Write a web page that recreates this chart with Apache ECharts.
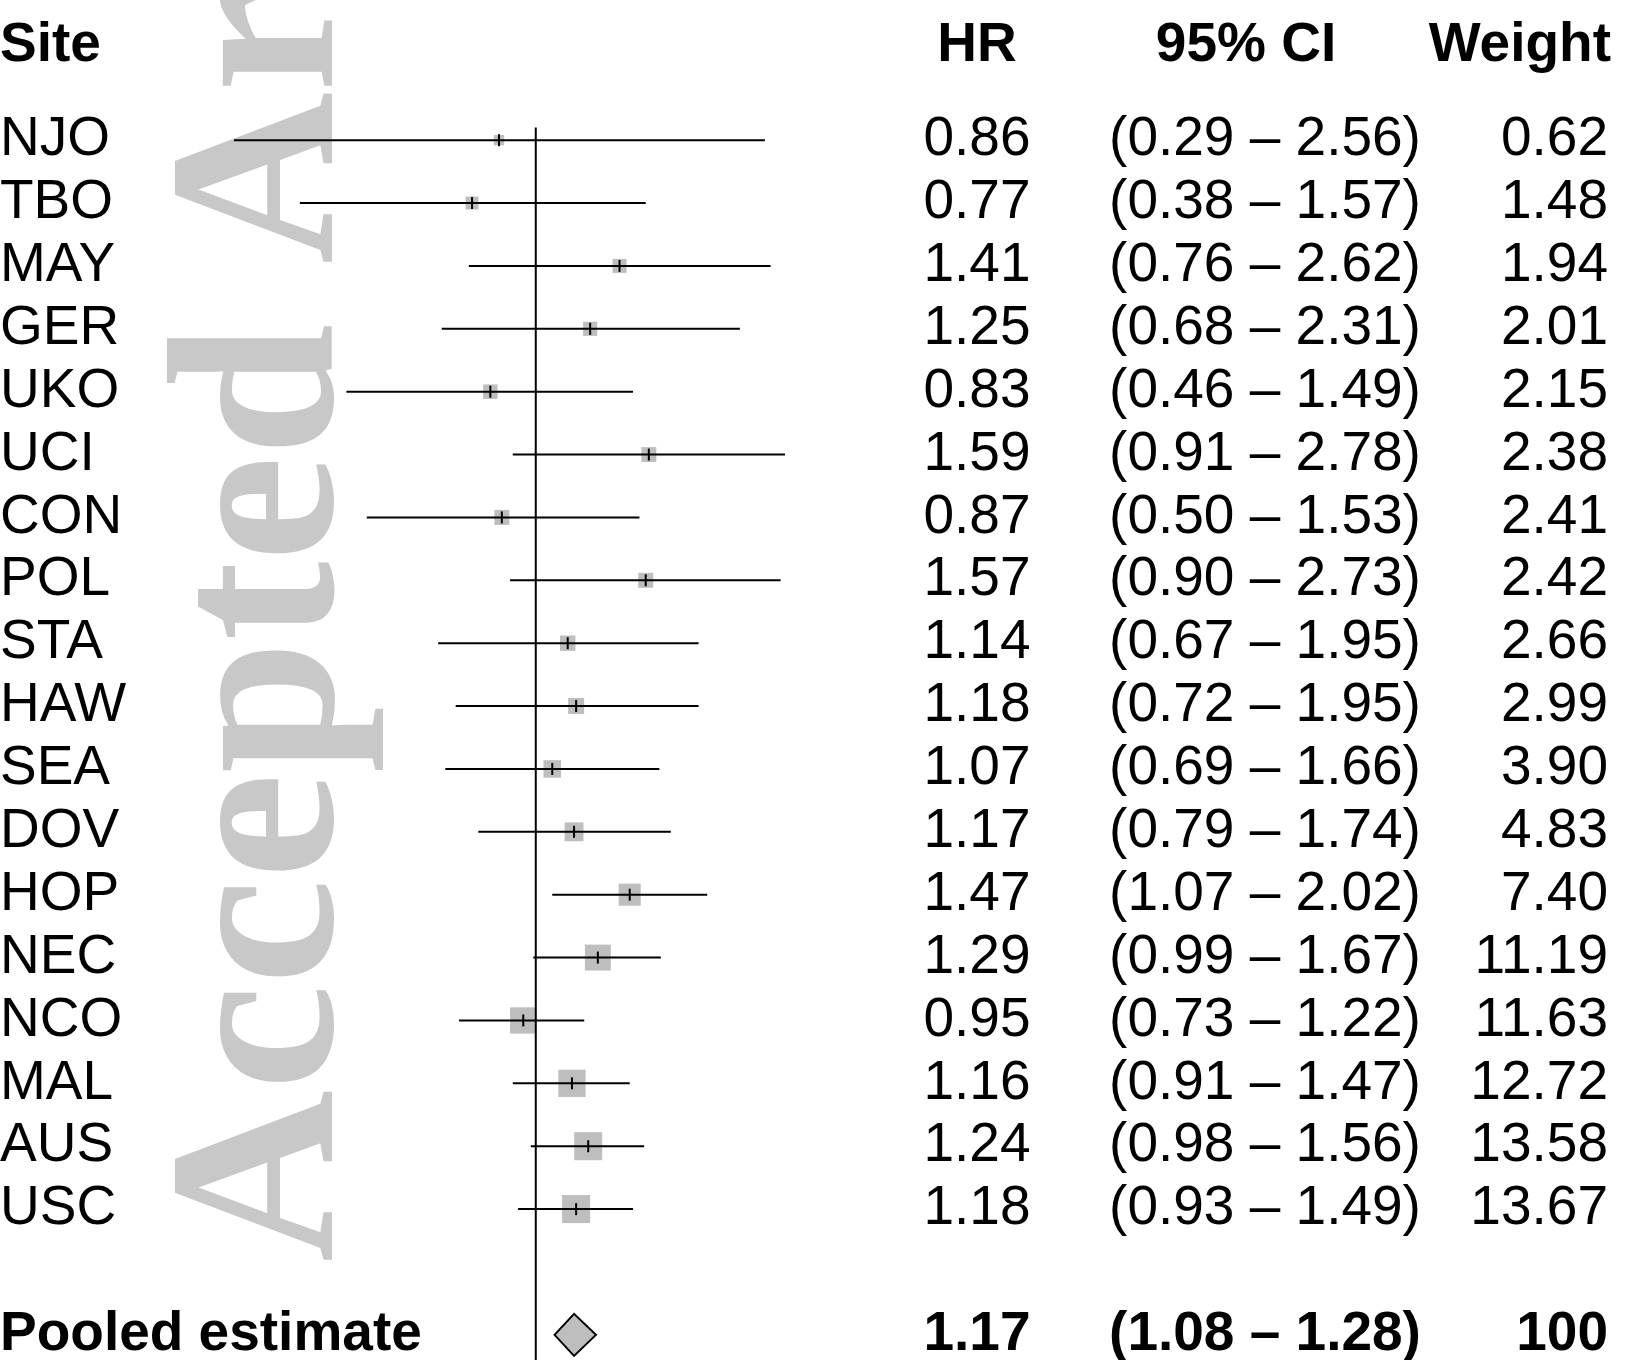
<!DOCTYPE html>
<html>
<head>
<meta charset="utf-8">
<script src="https://cdn.jsdelivr.net/npm/echarts@6/dist/echarts.min.js"></script>
<style>
  html, body { margin: 0; padding: 0; background: #ffffff; }
  #chart { width: 1628px; height: 1360px; }
</style>
</head>
<body>
<div id="chart"></div>
<script>
// ---------------- data ----------------
const sites   = ['NJO','TBO','MAY','GER','UKO','UCI','CON','POL','STA','HAW','SEA','DOV','HOP','NEC','NCO','MAL','AUS','USC'];
const hr      = [0.86, 0.77, 1.41, 1.25, 0.83, 1.59, 0.87, 1.57, 1.14, 1.18, 1.07, 1.17, 1.47, 1.29, 0.95, 1.16, 1.24, 1.18];
const ciLow   = [0.29, 0.38, 0.76, 0.68, 0.46, 0.91, 0.50, 0.90, 0.67, 0.72, 0.69, 0.79, 1.07, 0.99, 0.73, 0.91, 0.98, 0.93];
const ciHigh  = [2.56, 1.57, 2.62, 2.31, 1.49, 2.78, 1.53, 2.73, 1.95, 1.95, 1.66, 1.74, 2.02, 1.67, 1.22, 1.47, 1.56, 1.49];
const weights = [0.62, 1.48, 1.94, 2.01, 2.15, 2.38, 2.41, 2.42, 2.66, 2.99, 3.90, 4.83, 7.40, 11.19, 11.63, 12.72, 13.58, 13.67];
const pooledLabel  = 'Pooled estimate';
const pooledHR     = 1.17;
const pooledLow    = 1.08;
const pooledHigh   = 1.28;
const pooledWeight = '100';
const headers = ['Site', 'HR', '95% CI', 'Weight'];
const refHR = 1;
const watermark = 'Accepted Article';

// ---------------- layout ----------------
const ROW_PX = 62.9;
const Y_MIN = -2, Y_MAX = 19.4;
const GRID_TOP = 140.2 + Y_MIN * ROW_PX;
const GRID_H = (Y_MAX - Y_MIN) * ROW_PX;
const headerRow = -1.5;
const pooledRow = sites.length + 1;
const colX = { site: 0, hr: 977, ci: 1265, wt: 1608 };
const headX = [0, 977, 1246, 1611];
const headAlign = ['left', 'center', 'center', 'right'];
const FONT = '"Liberation Sans", Arial, Helvetica, sans-serif';

const fmt = v => v.toFixed(2);
const ciText = (l, h) => '(' + fmt(l) + ' \u2013 ' + fmt(h) + ')';

// text items
const textItems = [];
headers.forEach((h, k) => textItems.push({x: headX[k], row: headerRow, text: h, align: headAlign[k], bold: true}));
sites.forEach((s, i) => {
  textItems.push({x: colX.site, row: i, text: s, align: 'left', bold: false});
  textItems.push({x: colX.hr, row: i, text: fmt(hr[i]), align: 'center', bold: false});
  textItems.push({x: colX.ci, row: i, text: ciText(ciLow[i], ciHigh[i]), align: 'center', bold: false});
  textItems.push({x: colX.wt, row: i, text: fmt(weights[i]), align: 'right', bold: false});
});
textItems.push({x: colX.site, row: pooledRow, text: pooledLabel, align: 'left', bold: true});
textItems.push({x: colX.hr, row: pooledRow, text: fmt(pooledHR), align: 'center', bold: true});
textItems.push({x: colX.ci, row: pooledRow, text: ciText(pooledLow, pooledHigh), align: 'center', bold: true});
textItems.push({x: colX.wt, row: pooledRow, text: pooledWeight, align: 'right', bold: true});

const chart = echarts.init(document.getElementById('chart'), null, {renderer: 'canvas'});

const option = {
  backgroundColor: '#ffffff',
  animation: false,
  graphic: [{
    type: 'text',
    z: 0,
    x: 271,
    y: 1262,
    rotation: Math.PI / 2,
    style: {
      text: watermark,
      font: 'bold 238px "Liberation Serif", "Times New Roman", serif',
      fill: '#c8c8c8',
      align: 'left',
      verticalAlign: 'middle'
    }
  }],
  grid: [
    {left: 197.8, width: 605.8, top: GRID_TOP, height: GRID_H},
    {left: 0, width: 1628, top: GRID_TOP, height: GRID_H}
  ],
  xAxis: [
    {type: 'log', logBase: 10, min: 0.25, max: 3, show: false, gridIndex: 0},
    {type: 'value', min: 0, max: 1628, show: false, gridIndex: 1}
  ],
  yAxis: [
    {type: 'value', inverse: true, min: Y_MIN, max: Y_MAX, show: false, gridIndex: 0},
    {type: 'value', inverse: true, min: Y_MIN, max: Y_MAX, show: false, gridIndex: 1}
  ],
  series: [
    {
      type: 'custom',
      xAxisIndex: 0, yAxisIndex: 0,
      z: 3,
      clip: false,
      data: sites.map((s, i) => [i, hr[i], ciLow[i], ciHigh[i], weights[i]]),
      encode: {x: [1, 2, 3], y: 0},
      renderItem: (params, api) => {
        const row = api.value(0);
        const pE = api.coord([api.value(1), row]);
        const pL = api.coord([api.value(2), row]);
        const pH = api.coord([api.value(3), row]);
        const size = 5.5 + 6.1 * Math.sqrt(api.value(4));
        return {
          type: 'group',
          children: [
            {type: 'rect', shape: {x: pE[0] - size / 2, y: pE[1] - size / 2, width: size, height: size}, style: {fill: '#bebebe'}},
            {type: 'line', shape: {x1: pL[0], y1: pL[1], x2: pH[0], y2: pH[1]}, style: {stroke: '#000', lineWidth: 2}},
            {type: 'line', shape: {x1: pE[0], y1: pE[1] - 6, x2: pE[0], y2: pE[1] + 6}, style: {stroke: '#000', lineWidth: 2}}
          ]
        };
      }
    },
    {
      type: 'custom',
      xAxisIndex: 0, yAxisIndex: 0,
      z: 3,
      clip: false,
      data: [[pooledRow, pooledHR, pooledLow, pooledHigh]],
      encode: {x: [1, 2, 3], y: 0},
      renderItem: (params, api) => {
        const row = api.value(0);
        const pE = api.coord([api.value(1), row]);
        const pL = api.coord([api.value(2), row]);
        const pH = api.coord([api.value(3), row]);
        const h = 21;
        return {
          type: 'polygon',
          shape: {points: [[pL[0], pE[1]], [pE[0], pE[1] - h], [pH[0], pE[1]], [pE[0], pE[1] + h]]},
          style: {fill: '#bebebe', stroke: '#000', lineWidth: 2}
        };
      }
    },
    {
      type: 'line',
      xAxisIndex: 0, yAxisIndex: 0,
      z: 4,
      symbol: 'none',
      silent: true,
      data: [[refHR, -0.2], [refHR, Y_MAX + 0.2]],
      lineStyle: {color: '#000', width: 2}
    },
    {
      type: 'custom',
      xAxisIndex: 1, yAxisIndex: 1,
      z: 5,
      clip: false,
      data: textItems.map(t => [t.x, t.row]),
      encode: {x: 0, y: 1},
      renderItem: (params, api) => {
        const t = textItems[params.dataIndex];
        const p = api.coord([api.value(0), api.value(1)]);
        return {
          type: 'text',
          x: p[0],
          y: p[1],
          style: {
            text: t.text,
            fill: '#000',
            font: (t.bold ? 'bold ' : '') + '55px ' + FONT,
            align: t.align,
            verticalAlign: 'middle'
          }
        };
      }
    }
  ]
};
chart.setOption(option);
</script>
</body>
</html>
